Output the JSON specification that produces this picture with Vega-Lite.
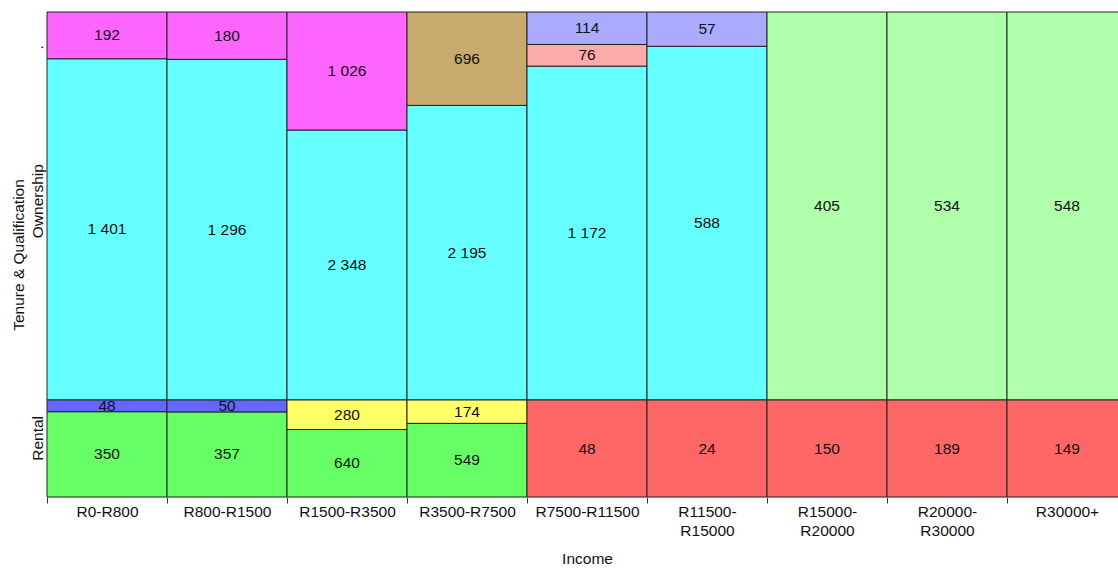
{
  "$schema": "https://vega.github.io/schema/vega-lite/v6.json",
  "width": 1071,
  "height": 485,
  "autosize": {"type": "none"},
  "padding": {"left": 47, "top": 12, "right": 0, "bottom": 71},
  "background": "white",
  "config": {
    "view": {"stroke": null},
    "font": "Liberation Sans",
    "locale": {"number": {"decimal": ".", "thousands": " ", "grouping": [3], "currency": ["", ""]}}
  },
  "data": {
    "values": [
      {"income": "R0-R800", "tenure": "Ownership", "qual": "o1", "n": 1401},
      {"income": "R0-R800", "tenure": "Ownership", "qual": "o4", "n": 192},
      {"income": "R0-R800", "tenure": "Rental", "qual": "r1", "n": 350},
      {"income": "R0-R800", "tenure": "Rental", "qual": "r2", "n": 48},
      {"income": "R800-R1500", "tenure": "Ownership", "qual": "o1", "n": 1296},
      {"income": "R800-R1500", "tenure": "Ownership", "qual": "o4", "n": 180},
      {"income": "R800-R1500", "tenure": "Rental", "qual": "r1", "n": 357},
      {"income": "R800-R1500", "tenure": "Rental", "qual": "r2", "n": 50},
      {"income": "R1500-R3500", "tenure": "Ownership", "qual": "o1", "n": 2348},
      {"income": "R1500-R3500", "tenure": "Ownership", "qual": "o4", "n": 1026},
      {"income": "R1500-R3500", "tenure": "Rental", "qual": "r1", "n": 640},
      {"income": "R1500-R3500", "tenure": "Rental", "qual": "r3", "n": 280},
      {"income": "R3500-R7500", "tenure": "Ownership", "qual": "o1", "n": 2195},
      {"income": "R3500-R7500", "tenure": "Ownership", "qual": "o5", "n": 696},
      {"income": "R3500-R7500", "tenure": "Rental", "qual": "r1", "n": 549},
      {"income": "R3500-R7500", "tenure": "Rental", "qual": "r3", "n": 174},
      {"income": "R7500-R11500", "tenure": "Ownership", "qual": "o1", "n": 1172},
      {"income": "R7500-R11500", "tenure": "Ownership", "qual": "o2", "n": 76},
      {"income": "R7500-R11500", "tenure": "Ownership", "qual": "o3", "n": 114},
      {"income": "R7500-R11500", "tenure": "Rental", "qual": "r4", "n": 48},
      {"income": "R11500-R15000", "tenure": "Ownership", "qual": "o1", "n": 588},
      {"income": "R11500-R15000", "tenure": "Ownership", "qual": "o3", "n": 57},
      {"income": "R11500-R15000", "tenure": "Rental", "qual": "r4", "n": 24},
      {"income": "R15000-R20000", "tenure": "Ownership", "qual": "o6", "n": 405},
      {"income": "R15000-R20000", "tenure": "Rental", "qual": "r4", "n": 150},
      {"income": "R20000-R30000", "tenure": "Ownership", "qual": "o6", "n": 534},
      {"income": "R20000-R30000", "tenure": "Rental", "qual": "r4", "n": 189},
      {"income": "R30000+", "tenure": "Ownership", "qual": "o6", "n": 548},
      {"income": "R30000+", "tenure": "Rental", "qual": "r4", "n": 149}
    ]
  },
  "transform": [
    {"stack": "n", "groupby": ["income", "tenure"], "sort": [{"field": "qual", "order": "ascending"}], "offset": "normalize", "as": ["s0", "s1"]},
    {"calculate": "datum.tenure == 'Rental' ? 0.2 * datum.s0 : 0.2 + 0.8 * datum.s0", "as": "lo"},
    {"calculate": "datum.tenure == 'Rental' ? 0.2 * datum.s1 : 0.2 + 0.8 * datum.s1", "as": "hi"},
    {"calculate": "(datum.lo + datum.hi) / 2", "as": "mid"}
  ],
  "encoding": {
    "x": {
      "field": "income",
      "type": "nominal",
      "sort": ["R0-R800", "R800-R1500", "R1500-R3500", "R3500-R7500", "R7500-R11500", "R11500-R15000", "R15000-R20000", "R20000-R30000", "R30000+"],
      "scale": {"range": [0, 1080], "paddingInner": 0, "paddingOuter": 0},
      "axis": {
        "title": "Income",
        "titleFontSize": 15.5,
        "titleFontWeight": "normal",
        "titleColor": "#111",
        "titleX": 540,
        "titleY": 66,
        "titleBaseline": "alphabetic",
        "labelAngle": 0,
        "labelFontSize": 15.5,
        "labelColor": "#111",
        "labelPadding": 1,
        "labelLineHeight": 19,
        "labelExpr": "length(datum.label) > 12 ? [split(datum.label, '-')[0] + '-', split(datum.label, '-')[1]] : datum.label",
        "tickBand": "extent",
        "tickSize": 6,
        "tickColor": "#333",
        "domainColor": "#888",
        "labelOverlap": false,
        "labelBound": false
      }
    }
  },
  "layer": [
    {
      "mark": {"type": "rect", "stroke": "#222", "strokeWidth": 1},
      "encoding": {
        "y": {
          "field": "lo",
          "type": "quantitative",
          "scale": {"domain": [0, 1], "nice": false},
          "axis": {
            "title": "Tenure & Qualification",
            "titleFontSize": 15.5,
            "titleFontWeight": "normal",
            "titleColor": "#111",
            "titleX": -29,
            "titleY": 242.5,
            "titleAngle": -90,
            "titleAlign": "center",
            "titleBaseline": "middle",
            "values": [0.122, 0.611, 0.928],
            "labelExpr": "datum.value < 0.3 ? 'Rental' : (datum.value < 0.8 ? 'Ownership' : '.')",
            "labelAngle": -90,
            "labelAlign": "center",
            "labelBaseline": "bottom",
            "labelPadding": 2,
            "labelFontSize": 15.5,
            "labelColor": "#111",
            "ticks": false,
            "domain": false,
            "grid": false,
            "labelOverlap": false
          }
        },
        "y2": {"field": "hi"},
        "color": {
          "field": "qual",
          "type": "nominal",
          "legend": null,
          "scale": {
            "domain": ["o1", "o2", "o3", "o4", "o5", "o6", "r1", "r2", "r3", "r4"],
            "range": ["#66FFFF", "#FFAAAA", "#AAAAFF", "#FF66FF", "#C8AA6E", "#B0FFAA", "#66FF66", "#6666FF", "#FFFF66", "#FF6666"]
          }
        },
        "opacity": {"value": 1}
      }
    },
    {
      "mark": {"type": "text", "fontSize": 15.5, "color": "#111", "baseline": "middle", "align": "center"},
      "encoding": {
        "y": {"field": "mid", "type": "quantitative"},
        "text": {"field": "n", "type": "quantitative", "format": ",d"}
      }
    }
  ]
}
